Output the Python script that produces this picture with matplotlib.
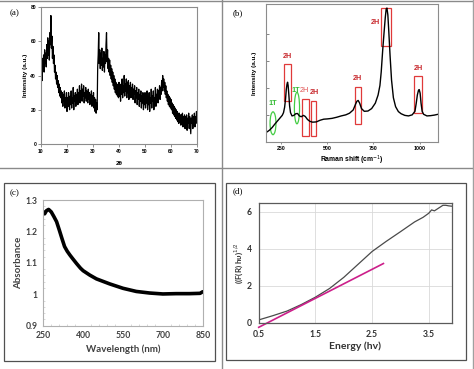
import numpy as np
import matplotlib
matplotlib.use("Agg")
import matplotlib.pyplot as plt
from matplotlib.patches import Rectangle, Ellipse
from matplotlib.lines import Line2D

# (a) XRD pattern, 2theta from 10 to 70 in 0.2 steps
xrd_intensity = [
    40, 48, 37, 50, 44, 52, 42, 55, 47, 53, 45, 58, 50, 62, 52, 60, 49, 65, 58, 75, 56, 63, 50, 57, 47,
    52, 42, 46, 38, 42, 35, 40, 33, 37, 30, 35, 28, 33, 27, 31, 24, 30, 22, 29, 25, 31, 21, 27, 23, 30,
    19, 27, 22, 30, 24, 20, 28, 23, 31, 21, 27, 24, 33, 20, 28, 25, 30, 22, 29, 24, 32, 23, 30, 26, 34,
    24, 31, 27, 35, 25, 32, 28, 34, 24, 30, 27, 33, 25, 31, 28, 24, 32, 26, 30, 23, 29, 26, 31, 22, 28,
    25, 30, 21, 27, 19, 26, 18, 24, 20, 45, 52, 65, 47, 55, 44, 53, 46, 56, 43, 50, 45, 54, 42, 52, 47,
    58, 65, 48, 55, 44, 50, 42, 49, 40, 46, 38, 44, 36, 42, 34, 40, 32, 38, 30, 36, 29, 35, 28, 34, 27,
    36, 28, 33, 25, 35, 29, 38, 27, 34, 30, 40, 28, 35, 31, 38, 27, 36, 30, 37, 26, 34, 29, 36, 27, 33,
    28, 35, 26, 32, 29, 34, 24, 31, 27, 33, 23, 30, 26, 32, 22, 29, 25, 31, 21, 28, 24, 30, 20, 27, 23,
    30, 21, 27, 24, 31, 20, 26, 23, 30, 19, 27, 24, 32, 21, 28, 25, 31, 20, 27, 24, 33, 22, 29, 26, 32,
    24, 31, 27, 34, 26, 33, 29, 37, 31, 40, 33, 38, 31, 36, 29, 34, 27, 31, 25, 29, 23, 28, 22, 27, 21,
    26, 20, 24, 18, 23, 17, 22, 16, 21, 15, 20, 14, 19, 13, 18, 12, 18, 13, 17, 11, 17, 12, 18, 10, 16,
    12, 17, 9, 16, 11, 17, 8, 15, 12, 18, 9, 16, 11, 6, 15, 12, 17, 9, 16, 11, 18, 10, 16, 12, 19,
    14,
]
two_theta = np.linspace(10, 70, len(xrd_intensity))

# (b) Raman spectrum
raman_shift = [170, 185, 200, 215, 230, 245, 255, 262, 268, 273, 277, 281, 284, 287, 291, 295, 300,
               308, 318, 328, 338, 348, 358, 370, 380, 392, 405, 420, 440, 460, 480, 500, 525, 550,
               575, 600, 620, 640, 652, 660, 667, 675, 685, 700, 720, 740, 760, 775, 785, 792, 800,
               808, 814, 819, 823, 828, 833, 840, 848, 858, 870, 885, 900, 920, 940, 960, 975, 982,
               988, 994, 998, 1003, 1008, 1014, 1022, 1040, 1060, 1080, 1100]
raman_int = [0.38, 0.45, 0.55, 0.68, 0.80, 0.92, 1.00, 1.10, 1.30, 1.60, 1.95, 2.15, 2.22, 2.10, 1.75,
             1.35, 1.10, 0.98, 1.00, 1.06, 1.07, 0.98, 0.95, 1.00, 0.96, 0.85, 0.78, 0.75, 0.76, 0.82,
             0.86, 0.87, 0.89, 0.93, 0.98, 1.02, 1.08, 1.20, 1.40, 1.52, 1.55, 1.45, 1.25, 1.15, 1.16,
             1.25, 1.45, 1.75, 2.10, 2.60, 3.40, 4.10, 4.60, 4.92, 4.95, 4.70, 4.10, 3.20, 2.30, 1.65,
             1.32, 1.14, 1.06, 1.00, 0.98, 1.02, 1.15, 1.45, 1.75, 1.92, 1.95, 1.82, 1.45, 1.15, 1.04,
             0.98, 0.99, 1.01, 1.04]

# phase markers: (x0, x1, y0, y1, label, label_x, label_y)
h2_boxes = [(266, 302, 1.53, 2.90, "2H", 284, 3.05),
            (364, 399, 0.24, 1.61, "2H", 373, 1.80),
            (411, 440, 0.24, 1.52, "2H", 430, 1.72),
            (650, 681, 0.68, 2.06, "2H", 665, 2.22),
            (792, 843, 3.57, 4.97, "2H", 760, 4.30),
            (971, 1014, 1.07, 2.44, "2H", 992, 2.60)]
t1_marks = [(205, 0.71, 32, 0.84, 205, 1.30),
            (335, 1.27, 28, 1.16, 330, 1.80)]

# (c) UV-vis absorbance
wavelength = [250, 255, 262, 270, 280, 290, 300, 310, 320, 330, 340, 350, 360, 375, 390, 400, 425,
              450, 500, 550, 600, 650, 700, 750, 800, 840, 850]
absorbance = [1.262, 1.256, 1.266, 1.270, 1.262, 1.247, 1.231, 1.205, 1.178, 1.152, 1.137, 1.125,
              1.114, 1.098, 1.083, 1.075, 1.061, 1.049, 1.033, 1.019, 1.009, 1.004, 1.001, 1.002,
              1.002, 1.003, 1.008]

# (d) Tauc plot
energy = [0.5, 0.75, 1.0, 1.25, 1.5, 1.75, 2.0, 2.25, 2.5, 2.75, 3.0, 3.25, 3.4, 3.5, 3.55, 3.6,
          3.7, 3.75, 3.8, 3.85, 3.91]
tauc = [0.15, 0.38, 0.63, 0.98, 1.38, 1.85, 2.45, 3.15, 3.85, 4.40, 4.92, 5.45, 5.70, 5.92, 6.10,
        6.05, 6.25, 6.35, 6.35, 6.32, 6.30]
fit_energy = [0.5, 2.7]
fit_value = [-0.25, 3.20]

W, H = 474, 369
fig = plt.figure(figsize=(W / 100, H / 100), dpi=100)


def box(x0, y0, x1, y1):
    # pixel box -> figure fraction [left, bottom, width, height]
    return [x0 / W, 1 - y1 / H, (x1 - x0) / W, (y1 - y0) / H]


def fig_line(xs, ys, color="#8a8a8a", lw=1.0):
    fig.add_artist(Line2D([x / W for x in xs], [1 - y / H for y in ys],
                          transform=fig.transFigure, color=color, lw=lw))


sans = "Liberation Sans"
calibri = "Lato"
serif = "Liberation Serif"

# frame lines between panels
fig_line([0, W], [0.5, 0.5])
fig_line([0, W], [168, 168])
fig_line([222, 222], [0, H])
fig_line([473, 473], [0, H], color="#a0a0a0")
for (x0, y0, x1, y1) in [(4, 183, 215, 361), (226, 183, 466, 360)]:
    fig.add_artist(Rectangle((x0 / W, 1 - y1 / H), (x1 - x0) / W, (y1 - y0) / H,
                             transform=fig.transFigure, fill=False, ec="#505050", lw=0.9))

# ---- (a)
ax = fig.add_axes(box(41, 7, 197, 144))
ax.plot(two_theta, xrd_intensity, color="black", lw=0.9)
ax.set_xlim(10, 70)
ax.set_ylim(0, 80)
ax.set_xticks([10, 20, 30, 40, 50, 60, 70])
ax.set_yticks([0, 20, 40, 60, 80])
for s in ax.spines.values():
    s.set_color("#8c8c8c")
    s.set_linewidth(0.8)
ax.tick_params(length=2, width=0.5, pad=1.5, color="#666666")
for lab in ax.get_xticklabels() + ax.get_yticklabels():
    lab.set_fontsize(3.6)
    lab.set_fontweight("bold")
    lab.set_family(sans)
ax.set_ylabel("Intensity (a.u.)", fontsize=4.6, fontweight="bold", family=sans, labelpad=2)
ax.set_xlabel("2θ", fontsize=4.6, fontweight="bold", family=sans, labelpad=5)
fig.text(10 / W, 1 - 13 / H, "(a)", fontsize=6.5, family=serif, va="center")

# ---- (b)
ax = fig.add_axes(box(266, 4, 438, 142))
ax.plot(raman_shift, raman_int, color="black", lw=1.0)
ax.set_xlim(167, 1100)
ax.set_ylim(0.02, 5.1)
ax.set_xticks([250, 500, 750, 1000])
ax.set_yticks([1, 2, 3, 4])
ax.set_yticklabels([])
for s in ax.spines.values():
    s.set_color("#8c8c8c")
    s.set_linewidth(0.8)
ax.tick_params(axis="y", direction="in", length=2, width=0.5, color="#555555")
ax.tick_params(axis="x", length=1.5, width=0.5, pad=1.5, color="#666666")
for lab in ax.get_xticklabels():
    lab.set_fontsize(3.8)
    lab.set_fontweight("bold")
    lab.set_family(sans)
ax.set_ylabel("Intensity (a.u.)", fontsize=4.6, fontweight="bold", family=sans, labelpad=3)
ax.set_xlabel("Raman shift (cm$^{-1}$)", fontsize=4.9, fontweight="bold", family=sans, labelpad=2)
for i, (x0, x1, y0, y1, lab, lx, ly) in enumerate(h2_boxes):
    ax.add_patch(Rectangle((x0, y0), x1 - x0, y1 - y0, fill=False, ec="#e03a3a", lw=0.9))
    light = i == 1
    ax.text(lx, ly, lab, color="#e05050" if light else "#c8282d", fontsize=5.2,
            fontweight="normal" if light else "bold", family=sans, ha="center", va="bottom")
for (cx, cy, w, h, lx, ly) in t1_marks:
    ax.add_patch(Ellipse((cx, cy), w, h, fill=False, ec="#44cc44", lw=0.9))
    ax.text(lx, ly, "1T", color="#33bb33", fontsize=5.2, fontweight="bold", family=sans,
            ha="center", va="bottom")
fig.text(233 / W, 1 - 13 / H, "(b)", fontsize=6.5, family=serif, va="center")

# ---- (c)
ax = fig.add_axes(box(43.3, 200, 202.7, 325.7))
ax.plot(wavelength, absorbance, color="black", lw=2.6, solid_capstyle="round")
ax.set_xlim(250, 850)
ax.set_ylim(0.9, 1.3)
ax.set_xticks([250, 400, 550, 700, 850])
ax.set_yticks([0.9, 1.0, 1.1, 1.2, 1.3])
ax.set_yticklabels(["0.9", "1", "1.1", "1.2", "1.3"])
ax.set_xticks(np.arange(250, 851, 30), minor=True)
ax.set_yticks(np.arange(0.9, 1.301, 0.02), minor=True)
for s in ax.spines.values():
    s.set_color("#b0b0b0")
    s.set_linewidth(0.8)
ax.tick_params(which="major", length=0, pad=4, labelcolor="#404040")
ax.tick_params(which="minor", direction="in", length=1.5, width=0.4, color="#bbbbbb")
for lab in ax.get_xticklabels() + ax.get_yticklabels():
    lab.set_fontsize(6.2)
    lab.set_fontweight("bold")
    lab.set_family(calibri)
ax.set_ylabel("Absorbance", fontsize=7, fontweight="bold", family=calibri, color="#404040",
              labelpad=2)
ax.set_xlabel("Wavelength (nm)", fontsize=7, fontweight="bold", family=calibri,
              color="#404040", labelpad=3)
fig.text(10 / W, 1 - 193 / H, "(c)", fontsize=6.5, family=serif, va="center")

# ---- (d)
ax = fig.add_axes(box(258.7, 202.7, 452, 322.7))
ax.plot(energy, tauc, color="#4a4a4a", lw=0.9)
ax.plot(fit_energy, fit_value, color="#cc1f8a", lw=1.2, clip_on=False)
ax.set_xlim(0.5, 3.91)
ax.set_ylim(0, 6.49)
ax.set_xticks([0.5, 1.5, 2.5, 3.5])
ax.set_yticks([0, 2, 4, 6])
ax.grid(color="#d9d9d9", lw=0.6)
ax.set_axisbelow(True)
for s in ax.spines.values():
    s.set_color("#5a5a5a")
    s.set_linewidth(0.9)
ax.tick_params(length=0, pad=5, labelcolor="#333333")
for lab in ax.get_xticklabels() + ax.get_yticklabels():
    lab.set_fontsize(6.2)
    lab.set_fontweight("bold")
    lab.set_family(calibri)
ax.set_xlabel("Energy (hv)", fontsize=7.5, fontweight="bold", family=calibri, color="#333333",
              labelpad=2)
ax.set_ylabel("((F(R) hυ)$^{1/2}$", fontsize=5.8, fontweight="bold", family=calibri,
              color="#333333", labelpad=1)
fig.text(233 / W, 1 - 191 / H, "(d)", fontsize=6.5, family=serif, va="center")

fig.savefig("out.png", dpi=100)
